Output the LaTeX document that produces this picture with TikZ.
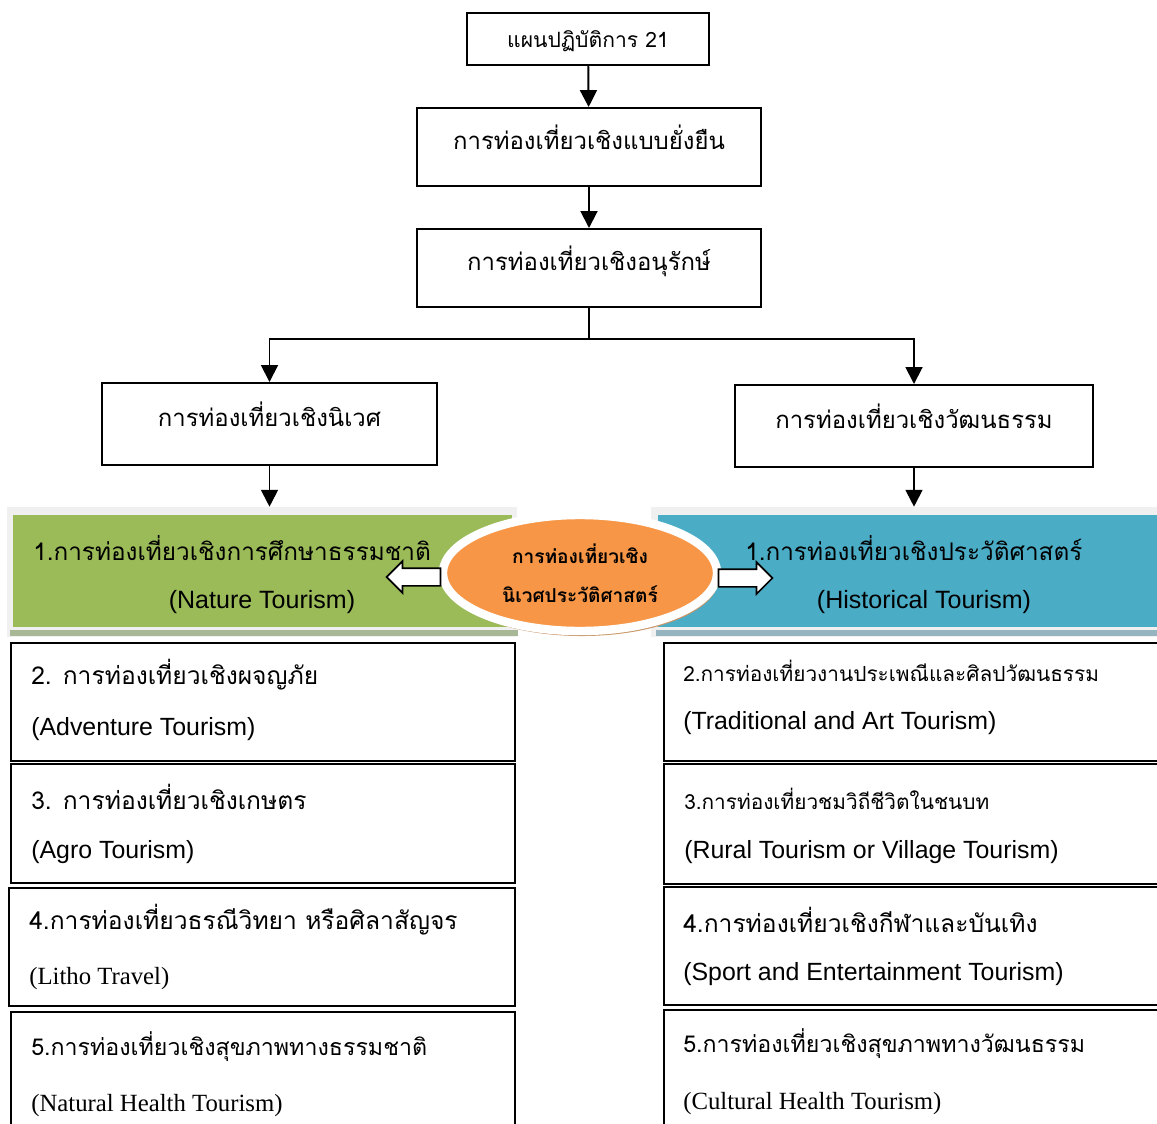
\documentclass[tikz,border=0pt]{standalone}
\usepackage{fontspec}
\setmainfont{Liberation Sans}
\newfontfamily\thai[Script=Thai]{Loma}
\newfontfamily\enserif{Liberation Serif}
\usepackage{tikz}
\usetikzlibrary{positioning}
\usetikzlibrary{arrows.meta}
\usetikzlibrary{fit}
\usetikzlibrary{calc}
\usetikzlibrary{shapes.geometric}
\usetikzlibrary{shapes.arrows}
\definecolor{natgreen}{RGB}{155,187,89}
\definecolor{histblue}{RGB}{75,172,198}
\definecolor{ovalorange}{RGB}{247,150,70}
\definecolor{ovalshadow}{RGB}{200,150,105}
\definecolor{framegray}{RGB}{240,240,240}
\definecolor{natstrip}{RGB}{168,184,150}
\definecolor{histstrip}{RGB}{150,180,192}
\tikzstyle{flowbox}=[black,draw=black,line width=1.4pt,shape=rectangle,fill=white,inner sep=0pt,text height=0.5cm,text depth=0.4cm]
\tikzstyle{listbox}=[draw=black,line width=1.4pt,shape=rectangle,fill=white,anchor=north west,minimum width=12.6cm,minimum height=2.95cm]
\tikzstyle{flowarrow}=[-{Triangle[width=12pt,length=12pt]},line width=1.4pt,color=black]
\tikzstyle{blockarrow}=[single arrow,draw=black,fill=white,line width=1.2pt,minimum height=1.35cm,inner xsep=0pt,inner ysep=0.2cm,single arrow head extend=0.175cm]
\tikzstyle{thtext}=[anchor=west,inner sep=0pt,font=\thai\fontsize{17.5}{20}\selectfont]
\tikzstyle{thserif}=[anchor=west,inner sep=0pt,font=\thai\fontsize{16.5}{20}\selectfont]
\tikzstyle{thsmall}=[anchor=west,inner sep=0pt,font=\thai\fontsize{14.8}{17}\selectfont]
\tikzstyle{entext}=[anchor=west,inner sep=0pt,font=\fontsize{17.7}{20}\selectfont]
\tikzstyle{entimes}=[anchor=west,inner sep=0pt,font=\enserif\fontsize{17.6}{20}\selectfont]

\begin{document}
\begin{tikzpicture}[x=0.025cm,y=-0.025cm]
	\useasboundingbox (0,0) rectangle (1157,1124);
	\clip (0,0) rectangle (1157,1124);
	
	% Top of the chart
	\node[flowbox,minimum width=6.05cm,minimum height=1.3cm,text height=0.6cm,text depth=0.2cm,font=\thai\fontsize{15}{18}\selectfont] (plan) at (588,39) {แผนปฏิบัติการ 21};
	\node[flowbox,minimum width=8.6cm,minimum height=1.95cm,font=\thai\fontsize{17}{20}\selectfont] (sust) at (589,147) {การท่องเที่ยวเชิงแบบยั่งยืน};
	\node[flowbox,minimum width=8.6cm,minimum height=1.95cm,font=\thai\fontsize{17}{20}\selectfont] (cons) at (589,268) {การท่องเที่ยวเชิงอนุรักษ์};
	\node[flowbox,minimum width=8.375cm,minimum height=2.05cm,font=\thai\fontsize{17}{20}\selectfont] (eco) at (269.5,424) {การท่องเที่ยวเชิงนิเวศ};
	\node[flowbox,minimum width=8.95cm,minimum height=2.05cm,font=\thai\fontsize{17}{20}\selectfont] (cult) at (914,426) {การท่องเที่ยวเชิงวัฒนธรรม};
	\coordinate (split) at (589,339);
	\draw[flowarrow] (plan) -- (sust);
	\draw[flowarrow] (sust) -- (cons);
	\draw[line width=1.4pt] (cons) -- (split);
	\draw[flowarrow] (split) -| (eco);
	\draw[flowarrow] (split) -| (cult);
	
	% Nature band
	\node[fill=framegray,minimum width=12.75cm,minimum height=3.25cm,inner sep=0pt] (natframe) at (262,572) {};
	\draw[natstrip,line width=4pt] ($(natframe.south west)+(3,-4)$) -- ($(natframe.south east)+(1,-4)$);
	\node[fill=natgreen,minimum width=12.475cm,minimum height=2.8cm,inner sep=0pt] (nat) at (262.5,571) {};
	\node[anchor=west,inner sep=0pt,font=\thai\fontsize{17.3}{20}\selectfont] (natth) at (33,548) {1.การท่องเที่ยวเชิงการศึกษาธรรมชาติ};
	\node[inner sep=0pt,font=\fontsize{17.8}{20}\selectfont] (naten) at (262,602) {(Nature Tourism)};
	
	% History band
	\node[fill=framegray,minimum width=12.75cm,minimum height=3.25cm,inner sep=0pt,anchor=west] (histframe) at (651,572) {};
	\draw[histstrip,line width=4pt] ($(histframe.south west)+(5,-4)$) -- ($(histframe.south east)+(0,-4)$);
	\node[fill=histblue,minimum width=12.6cm,minimum height=2.8cm,inner sep=0pt,anchor=west] (hist) at (658,571) {};
	\node[anchor=west,inner sep=0pt,font=\thai\fontsize{17.3}{20}\selectfont] (histth) at (745,548) {1.การท่องเที่ยวเชิงประวัติศาสตร์};
	\node[inner sep=0pt,font=\fontsize{17.8}{20}\selectfont] (histen) at (924,602) {(Historical Tourism)};
	\draw[flowarrow] (eco.south) -- (eco.south |- natframe.north);
	\draw[flowarrow] (cult.south) -- (cult.south |- histframe.north);
	
	% Oval in the middle
	\node[ellipse,fill=ovalshadow,minimum width=6.85cm,minimum height=2.9cm] (ovalsh) at (582,578) {};
	\node[ellipse,fill=ovalorange,draw=white,line width=6pt,minimum width=6.85cm,minimum height=2.9cm,align=center,inner sep=0pt,font=\thai\bfseries\fontsize{13.6}{27.7}\selectfont] (oval) at (580,573) {การท่องเที่ยวเชิง\\นิเวศประวัติศาสตร์};
	\node[blockarrow,shape border rotate=180] (larr) at (418,577) {};
	\node[blockarrow] (rarr) at (741,578) {};
	
	% Nature list
	\node[listbox] (adv) at (10,642) {};
	\node[thtext] (advth) at (31,675) {2. การท่องเที่ยวเชิงผจญภัย};
	\node[entext] (adven) at (31,729) {(Adventure Tourism)};
	\node[listbox,minimum height=2.975cm] (agro) at (10,763) {};
	\node[thtext] (agroth) at (31,797) {3. การท่องเที่ยวเชิงเกษตร};
	\node[entext] (agroen) at (31,852) {(Agro Tourism)};
	\node[listbox,minimum width=12.65cm] (litho) at (8,887) {};
	\node[thtext] (lithoth) at (29,920) {4.การท่องเที่ยวธรณีวิทยา หรือศิลาสัญจร};
	\node[entimes] (lithoen) at (29,979) {(Litho Travel)};
	\node[listbox,minimum height=3.5cm] (nheal) at (10,1011) {};
	\node[thserif] (nhealth) at (31,1047) {5.การท่องเที่ยวเชิงสุขภาพทางธรรมชาติ};
	\node[entimes] (nhealen) at (31,1106) {(Natural Health Tourism)};
	
	% Culture list
	\node[listbox] (trad) at (663,642) {};
	\node[thsmall] (tradth) at (683,671) {2.การท่องเที่ยวงานประเพณีและศิลปวัฒนธรรม};
	\node[entext] (traden) at (683,723) {(Traditional and Art Tourism)};
	\node[listbox,minimum height=3cm] (rural) at (663,763) {};
	\node[thsmall] (ruralth) at (684,799) {3.การท่องเที่ยวชมวิถีชีวิตในชนบท};
	\node[entext] (ruralen) at (684,852) {(Rural Tourism or Village Tourism)};
	\node[listbox] (sport) at (663,886) {};
	\node[thtext] (sportth) at (683,920) {4.การท่องเที่ยวเชิงกีฬาและบันเทิง};
	\node[entext] (sporten) at (683,974) {(Sport and Entertainment Tourism)};
	\node[listbox,minimum height=3.5cm] (cheal) at (663,1009) {};
	\node[thserif] (chealth) at (683,1044) {5.การท่องเที่ยวเชิงสุขภาพทางวัฒนธรรม};
	\node[entimes] (chealen) at (683,1104) {(Cultural Health Tourism)};
	
\end{tikzpicture}
\end{document}
